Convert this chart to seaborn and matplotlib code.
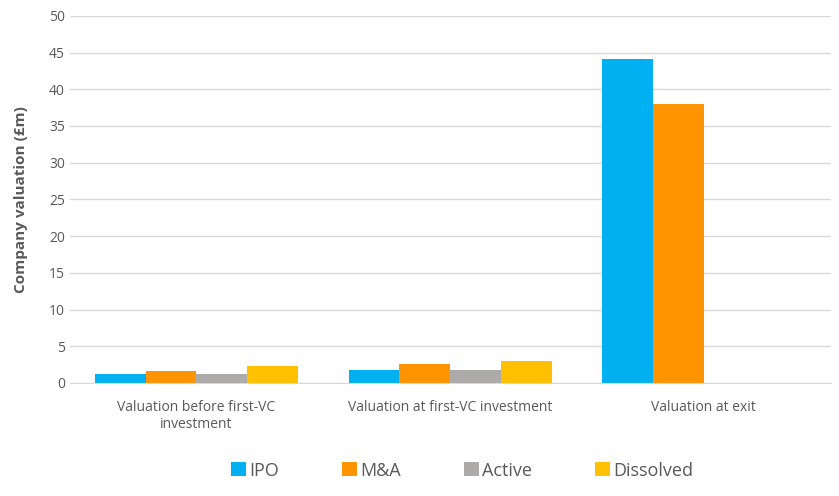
import pandas as pd
import numpy as np
import matplotlib
matplotlib.use('Agg')
import matplotlib.pyplot as plt
import seaborn as sns

# Chart data
categories = ['Valuation before first-VC\ninvestment',
              'Valuation at first-VC investment',
              'Valuation at exit']
outcomes = ['IPO', 'M&A', 'Active', 'Dissolved']
ipo = [1.2, 1.7, 44.1]
manda = [1.6, 2.6, 38.0]
active = [1.2, 1.8, np.nan]
dissolved = [2.3, 3.0, np.nan]
yticks = [0, 5, 10, 15, 20, 25, 30, 35, 40, 45, 50]

palette = ['#00B0F0', '#FF9300', '#ADAAAA', '#FFC000']

rows = []
for outcome, vals in zip(outcomes, [ipo, manda, active, dissolved]):
    for cat, v in zip(categories, vals):
        rows.append({'category': cat, 'outcome': outcome, 'value': v})
df = pd.DataFrame(rows)

sns.set_style('white')
plt.rcParams['font.family'] = ['Open Sans', 'DejaVu Sans']
text_color = '#595959'

fig = plt.figure(figsize=(8.39, 4.96), dpi=100)
ax = fig.add_axes([0.083, 0.228, 0.907, 0.74])

sns.barplot(data=df, x='category', y='value', hue='outcome', order=categories,
            hue_order=outcomes, palette=palette, width=0.8, saturation=1,
            errorbar=None, linewidth=0, ax=ax)

ax.set_ylim(0, 50)
ax.set_yticks(yticks)
ax.yaxis.grid(True, color='#D9D9D9', linewidth=1)
ax.set_axisbelow(True)
for s in ['top', 'right', 'left']:
    ax.spines[s].set_visible(False)
ax.spines['bottom'].set_color('#D9D9D9')
ax.tick_params(axis='both', length=0, labelsize=10, colors=text_color)
ax.tick_params(axis='x', pad=12)
ax.set_xlabel('')
ax.set_ylabel('Company valuation (£m)', fontsize=11, fontweight='bold',
              color=text_color, labelpad=15)

handles, labels = ax.get_legend_handles_labels()
ax.legend(handles, labels, loc='upper center', bbox_to_anchor=(0.516, -0.17),
          ncol=4, frameon=False, fontsize=13, labelcolor=text_color,
          handlelength=0.8, handleheight=0.8, handletextpad=0.2,
          columnspacing=3.5)

plt.savefig('out.png', dpi=100)
